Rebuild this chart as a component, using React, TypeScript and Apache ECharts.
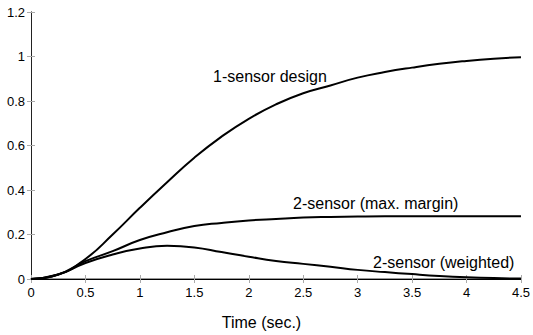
import React, { useEffect, useRef } from "react";
import * as echarts from "echarts";

const times = [0, 0.25, 0.5, 0.75, 1, 1.25, 1.5, 1.75, 2, 2.25, 2.5, 2.75, 3, 3.25, 3.5, 3.75, 4, 4.25, 4.5];
const oneSensor = [0, 0.02, 0.09, 0.2, 0.32, 0.435, 0.545, 0.64, 0.72, 0.785, 0.835, 0.87, 0.905, 0.93, 0.95, 0.967, 0.98, 0.99, 0.997];
const maxMargin = [0, 0.02, 0.08, 0.125, 0.175, 0.21, 0.238, 0.252, 0.263, 0.27, 0.276, 0.279, 0.281, 0.282, 0.282, 0.282, 0.282, 0.282, 0.282];
const weighted = [0, 0.02, 0.072, 0.11, 0.137, 0.149, 0.142, 0.121, 0.1, 0.081, 0.068, 0.055, 0.041, 0.031, 0.022, 0.014, 0.008, 0.004, 0.002];

const seriesNames = ["1-sensor design", "2-sensor (max. margin)", "2-sensor (weighted)"];
const xTitle = "Time (sec.)";

const FONT = "Arial, 'Liberation Sans', Helvetica, sans-serif";

export default function App() {
  const ref = useRef<HTMLDivElement>(null);
  useEffect(() => {
    if (!ref.current) return;
    const chart = echarts.init(ref.current, undefined, { renderer: "svg" });
    const toPairs = (ys: number[]) => times.map((t, i) => [t, ys[i]]);
    const lineSeries = (name: string, ys: number[]) => ({
      name,
      type: "line",
      data: toPairs(ys),
      showSymbol: false,
      smooth: true,
      lineStyle: { color: "#000", width: 2 },
      xAxisIndex: 0,
      yAxisIndex: 0,
    });
    chart.setOption({
      animation: false,
      backgroundColor: "#fff",
      grid: { left: 31, right: 10, top: 12, bottom: 56, containLabel: false },
      xAxis: [
        {
          type: "value",
          min: 0,
          max: 4.5,
          interval: 0.5,
          name: xTitle,
          nameLocation: "middle",
          nameGap: 35,
          nameTextStyle: { fontFamily: FONT, fontSize: 16, color: "#000", padding: [0, 29, 0, 0] },
          axisLine: { show: true, lineStyle: { color: "#999", width: 2 } },
          axisTick: { show: true, inside: true, length: 4, lineStyle: { color: "#aaa" } },
          axisLabel: { fontFamily: FONT, fontSize: 13, color: "#000", margin: 7 },
          splitLine: { show: false },
        },
        {
          type: "value",
          position: "top",
          min: 0,
          max: 4.5,
          interval: 0.5,
          axisLine: { show: true, lineStyle: { color: "#000", width: 1 } },
          axisTick: { show: true, inside: true, length: 4, lineStyle: { color: "#aaa" } },
          axisLabel: { show: false },
          splitLine: { show: false },
        },
      ],
      yAxis: [
        {
          type: "value",
          min: 0,
          max: 1.2,
          interval: 0.2,
          axisLine: { show: true, lineStyle: { color: "#777", width: 1 } },
          axisTick: { show: true, inside: true, length: 4, lineStyle: { color: "#aaa" } },
          axisLabel: {
            fontFamily: FONT,
            fontSize: 13,
            color: "#000",
            margin: 6,
            formatter: (v: number) => String(Math.round(v * 10) / 10),
          },
          splitLine: { show: false },
        },
        {
          type: "value",
          position: "right",
          min: 0,
          max: 1.2,
          interval: 0.2,
          axisLine: { show: true, lineStyle: { color: "#222", width: 1 } },
          axisTick: { show: true, inside: true, length: 4, lineStyle: { color: "#aaa" } },
          axisLabel: { show: false },
          splitLine: { show: false },
        },
      ],
      series: [
        lineSeries(seriesNames[0], oneSensor),
        lineSeries(seriesNames[1], maxMargin),
        lineSeries(seriesNames[2], weighted),
      ],
      graphic: [
        { type: "text", x: 213, y: 76, style: { text: seriesNames[0], font: `16px ${FONT}`, fill: "#000", align: "left", verticalAlign: "middle" } },
        { type: "text", x: 293, y: 203, style: { text: seriesNames[1], font: `16px ${FONT}`, fill: "#000", align: "left", verticalAlign: "middle" } },
        { type: "text", x: 373, y: 262, style: { text: seriesNames[2], font: `16px ${FONT}`, fill: "#000", align: "left", verticalAlign: "middle" } },
      ],
    });
    return () => chart.dispose();
  }, []);
  return <div ref={ref} style={{ position: "fixed", left: 0, top: 0, width: 533, height: 335 }} />;
}
